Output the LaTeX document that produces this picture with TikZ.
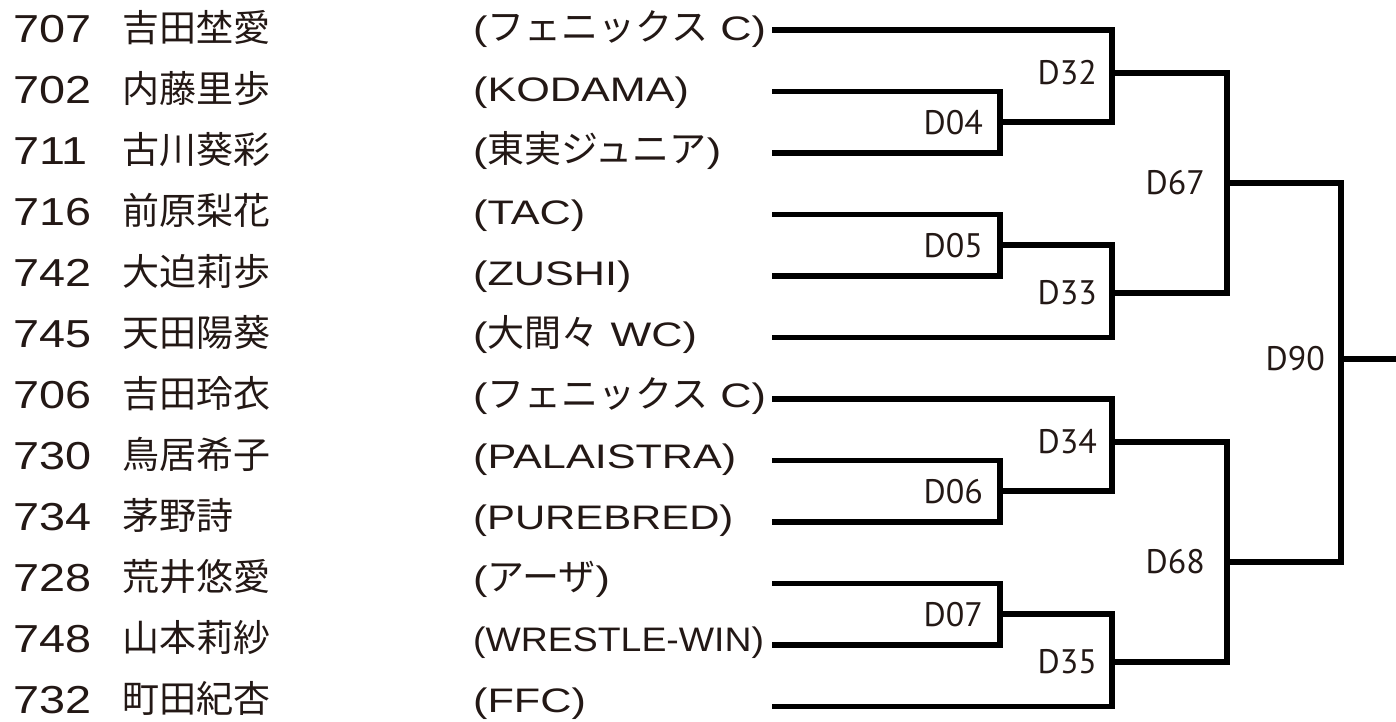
\documentclass[tikz,border=0pt]{standalone}
\usepackage{graphicx}
\usepackage{fontspec}
\setmainfont{Liberation Sans}
\newfontfamily\jpfont{Noto Sans CJK JP}
\newfontfamily\labfont{PT Sans}
\definecolor{txt}{HTML}{231815}
\newcommand{\lat}[2][1.27]{\scalebox{#1}[1]{\fontsize{34}{40}\selectfont #2}}
\newcommand{\kan}[1]{{\jpfont\fontsize{37}{44}\selectfont #1}}
\newcommand{\numfmt}[1]{\scalebox{1.2}[1]{\fontsize{39}{48}\selectfont #1}}
\tikzset{
  numtxt/.style={anchor=base west, inner sep=0pt, text=txt},
  nametxt/.style={anchor=base west, inner sep=0pt, text=txt, font=\jpfont\fontsize{37}{44}\selectfont},
  clubtxt/.style={anchor=base west, inner sep=0pt, text=txt},
  lab/.style={anchor=east, inner sep=0pt, text=txt, font=\labfont\fontsize{34}{40}\selectfont},
  bracket/.style={draw=black, line width=5.6pt, line join=miter, line cap=butt}
}
\begin{document}
\begin{tikzpicture}[x=1pt,y=-1pt]
\useasboundingbox (0,0) rectangle (1396,722);
% rows
\foreach \i/\num/\nm in {1/707/吉田埜愛,2/702/内藤里歩,3/711/古川葵彩,4/716/前原梨花,5/742/大迫莉歩,6/745/天田陽葵,7/706/吉田玲衣,8/730/鳥居希子,9/734/茅野詩,10/728/荒井悠愛,11/748/山本莉紗,12/732/町田紀杏}{
  \pgfmathsetmacro{\ry}{30+61.5*(\i-1)}
  \pgfmathsetmacro{\ty}{30+61*(\i-1)}
  \node[numtxt] (n\i) at (13,\ty+12.5) {\numfmt{\num}};
  \node[nametxt] (nm\i) at (122,\ty+11.5) {\nm};
  \coordinate (p\i) at (772,\ry);
}
% clubs (baseline = text row + 11)
\node[clubtxt] (c1) at (473,41) {\lat{(}\kan{フェニックス}\lat{\ C)}};
\node[clubtxt] (c2) at (473,102) {\lat{(KODAMA)}};
\node[clubtxt] (c3) at (473,163) {\lat{(}\kan{東実ジュニア}\lat{)}};
\node[clubtxt] (c4) at (473,224) {\lat{(TAC)}};
\node[clubtxt] (c5) at (473,285) {\lat{(ZUSHI)}};
\node[clubtxt] (c6) at (473,346) {\lat{(}\kan{大間々}\lat{\ WC)}};
\node[clubtxt] (c7) at (473,407) {\lat{(}\kan{フェニックス}\lat{\ C)}};
\node[clubtxt] (c8) at (473,468) {\lat{(PALAISTRA)}};
\node[clubtxt] (c9) at (473,529) {\lat[1.23]{(PUREBRED)}};
\node[clubtxt] (c10) at (473,590) {\lat{(}\kan{アーザ}\lat{)}};
\node[clubtxt] (c11) at (473,651) {\lat[1.1]{(WRESTLE-WIN)}};
\node[clubtxt] (c12) at (473,712) {\lat{(FFC)}};
% junctions
\coordinate (m04) at (1000,122.25);
\coordinate (m05) at (1000,245.25);
\coordinate (m06) at (1000,491.25);
\coordinate (m07) at (1000,614.25);
\coordinate (m32) at (1112,73);
\coordinate (m33) at (1112,293);
\coordinate (m34) at (1112,442);
\coordinate (m35) at (1112,662);
\coordinate (m67) at (1227,183);
\coordinate (m68) at (1227,562);
\coordinate (m90) at (1341,359);
\coordinate (fin) at (1396,359);
% brackets
\draw[bracket] (p2) -| (m04) |- (p3);
\draw[bracket] (p1) -| (m32) |- (m04);
\draw[bracket] (p4) -| (m05) |- (p5);
\draw[bracket] (m05) -| (m33) |- (p6);
\draw[bracket] (m32) -| (m67) |- (m33);
\draw[bracket] (p8) -| (m06) |- (p9);
\draw[bracket] (p7) -| (m34) |- (m06);
\draw[bracket] (p10) -| (m07) |- (p11);
\draw[bracket] (m07) -| (m35) |- (p12);
\draw[bracket] (m34) -| (m68) |- (m35);
\draw[bracket] (m67) -| (m90) |- (m68);
\draw[bracket] (m90) -- (fin);
% labels
\node[lab] (l04) at ([xshift=-17pt]m04) {D04};
\node[lab] (l05) at ([xshift=-17pt]m05) {D05};
\node[lab] (l06) at ([xshift=-17pt]m06) {D06};
\node[lab] (l07) at ([xshift=-17pt]m07) {D07};
\node[lab] (l32) at ([xshift=-15pt]m32) {D32};
\node[lab] (l33) at ([xshift=-15pt]m33) {D33};
\node[lab] (l34) at ([xshift=-15pt]m34) {D34};
\node[lab] (l35) at ([xshift=-15pt]m35) {D35};
\node[lab] (l67) at ([xshift=-22pt]m67) {D67};
\node[lab] (l68) at ([xshift=-22pt]m68) {D68};
\node[lab] (l90) at ([xshift=-16pt]m90) {D90};
\end{tikzpicture}
\end{document}
